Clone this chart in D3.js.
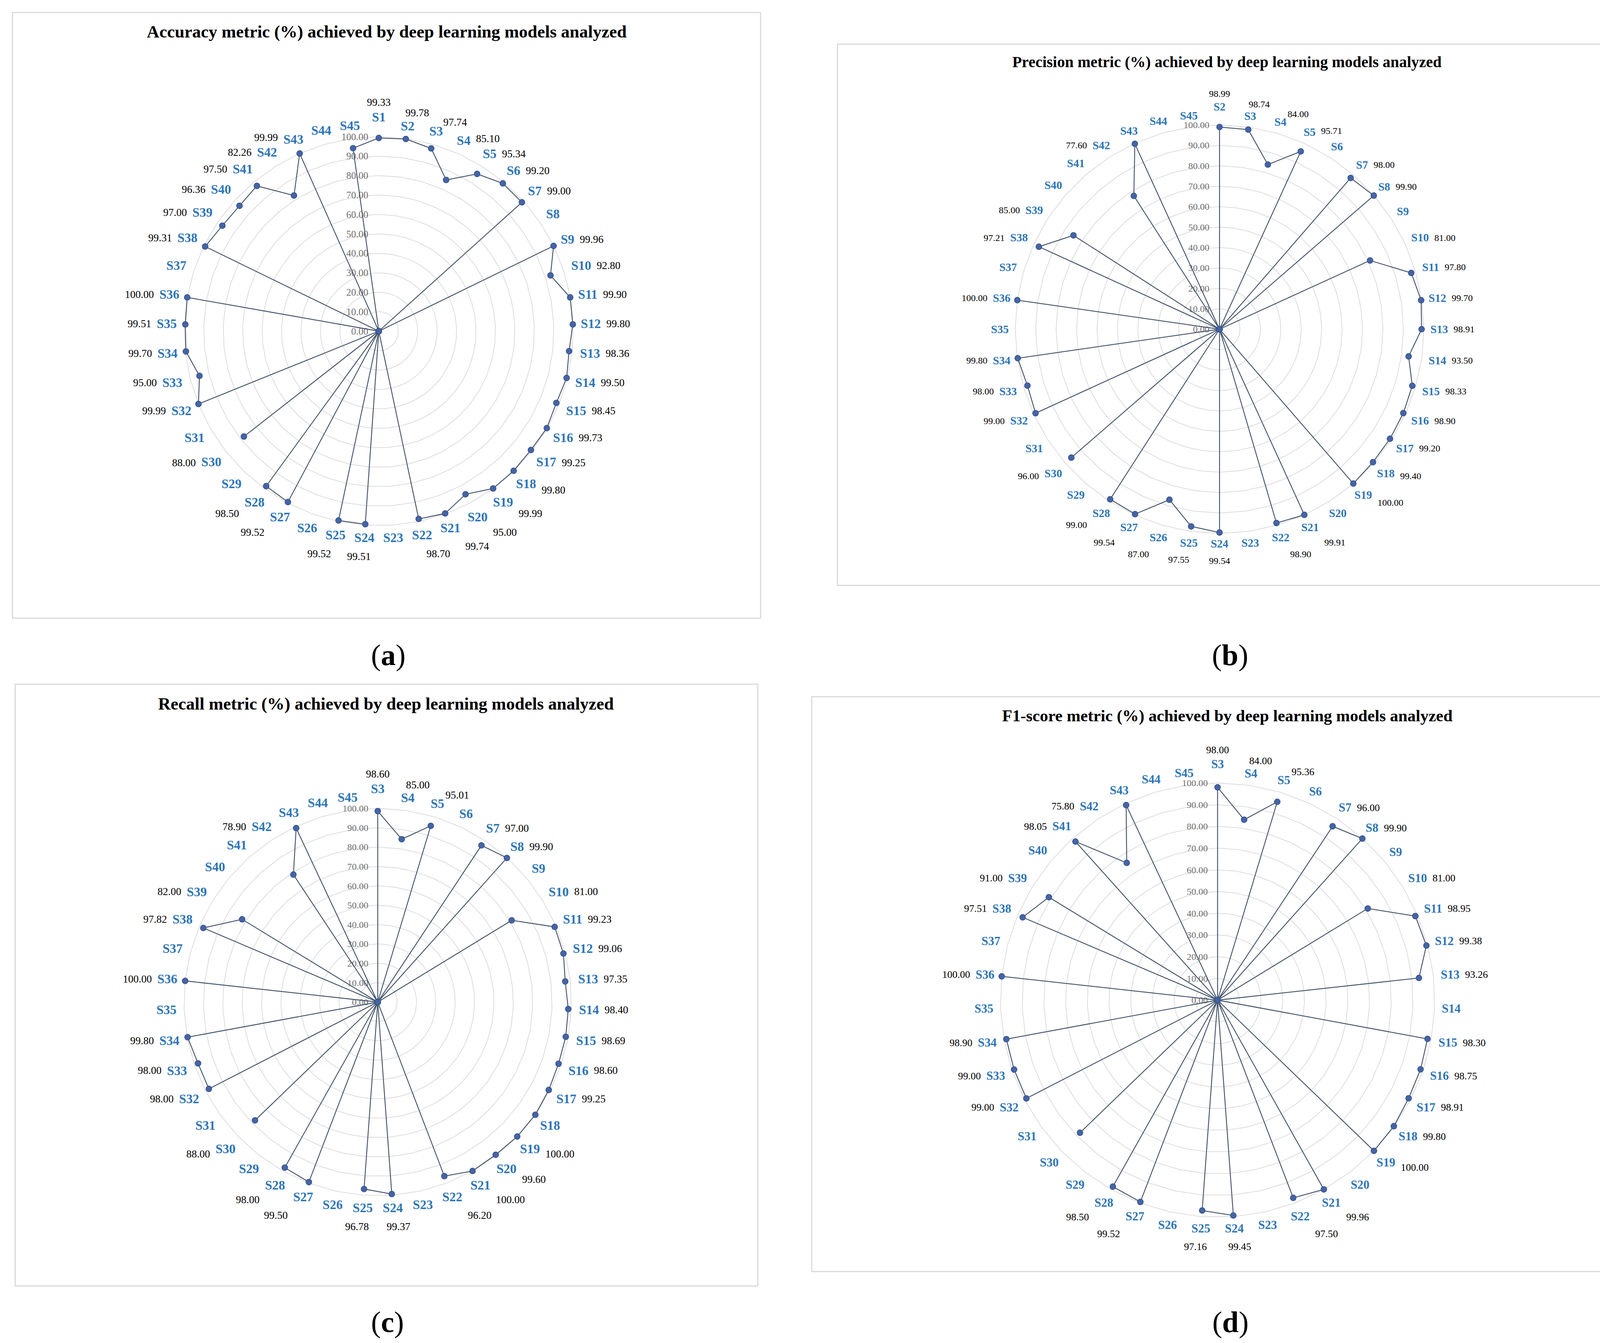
<!DOCTYPE html>
<html>
<head>
<meta charset="utf-8">
<script src="https://cdn.jsdelivr.net/npm/d3@7"></script>
<style>
html, body { margin: 0; padding: 0; background: #ffffff; }
svg { display: block; }
</style>
</head>
<body>
<svg id="fig" width="4229" height="3439"></svg>
<script>
// ---------------- DATA ----------------
const catsA = ["S1","S2","S3","S4","S5","S6","S7","S8","S9","S10","S11","S12","S13","S14","S15","S16","S17","S18","S19","S20","S21","S22","S23","S24","S25","S26","S27","S28","S29","S30","S31","S32","S33","S34","S35","S36","S37","S38","S39","S40","S41","S42","S43","S44","S45"];
const accuracy = [99.33,99.78,97.74,85.10,95.34,99.20,99.00,0,99.96,92.80,99.90,99.80,98.36,99.50,98.45,99.73,99.25,99.80,99.99,95.00,99.74,98.70,0,99.51,99.52,0,99.52,98.50,0,88.00,0,99.99,95.00,99.70,99.51,100.00,0,99.31,97.00,96.36,97.50,82.26,99.99,0,95.00];
const hiddenA = ["S45"];

const catsB = ["S2","S3","S4","S5","S6","S7","S8","S9","S10","S11","S12","S13","S14","S15","S16","S17","S18","S19","S20","S21","S22","S23","S24","S25","S26","S27","S28","S29","S30","S31","S32","S33","S34","S35","S36","S37","S38","S39","S40","S41","S42","S43","S44","S45"];
const precision = [98.99,98.74,84.00,95.71,0,98.00,99.90,0,81.00,97.80,99.70,98.91,93.50,98.33,98.90,99.20,99.40,100.00,0,99.91,98.90,0,99.54,97.55,87.00,99.54,99.00,0,96.00,0,99.00,98.00,99.80,0,100.00,0,97.21,85.00,0,0,77.60,99.80,0,0];
const hiddenB = ["S43"];

const catsC = ["S3","S4","S5","S6","S7","S8","S9","S10","S11","S12","S13","S14","S15","S16","S17","S18","S19","S20","S21","S22","S23","S24","S25","S26","S27","S28","S29","S30","S31","S32","S33","S34","S35","S36","S37","S38","S39","S40","S41","S42","S43","S44","S45"];
const recall = [98.60,85.00,95.01,0,97.00,99.90,0,81.00,99.23,99.06,97.35,98.40,98.69,98.60,99.25,100.00,100.00,99.60,100.00,96.20,0,99.37,96.78,0,99.50,98.00,0,88.00,0,98.00,98.00,99.80,0,100.00,0,97.82,82.00,0,0,78.90,99.20,0,0];
const hiddenC = ["S18","S43"];

const catsD = ["S3","S4","S5","S6","S7","S8","S9","S10","S11","S12","S13","S14","S15","S16","S17","S18","S19","S20","S21","S22","S23","S24","S25","S26","S27","S28","S29","S30","S31","S32","S33","S34","S35","S36","S37","S38","S39","S40","S41","S42","S43","S44","S45"];
const f1score = [98.00,84.00,95.36,0,96.00,99.90,0,81.00,98.95,99.38,93.26,0,98.30,98.75,98.91,99.80,100.00,0,99.96,97.50,0,99.45,97.16,0,99.52,98.50,0,88.00,0,99.00,99.00,98.90,0,100.00,0,97.51,91.00,0,98.05,75.80,99.20,0,0];
const hiddenD = ["S30","S43"];

const ringTicks = [0,10,20,30,40,50,60,70,80,90,100];
const titleA = "Accuracy metric (%) achieved by deep learning models analyzed";
const titleB = "Precision metric (%) achieved by deep learning models analyzed";
const titleC = "Recall metric (%) achieved by deep learning models analyzed";
const titleD = "F1-score metric (%) achieved by deep learning models analyzed";
const panelLetters = ["a","b","c","d"];

// ---------------- LAYOUT ----------------
const panels = [
  {cats: catsA, values: accuracy, hidden: hiddenA, title: titleA, letter: panelLetters[0],
   box: [32,32,1947,1583], cx: 969.7, cy: 848, r: 498,
   titleX: 990, titleY: 96, titleFs: 44.5, catFs: 33, dataFs: 27, axisFs: 25, axisOff: 27,
   labelX: 994, labelY: 1703},
  {cats: catsB, values: precision, hidden: hiddenB, title: titleB, letter: panelLetters[1],
   box: [2144,113,4145,1499], cx: 3122, cy: 843, r: 523,
   titleX: 3141, titleY: 172, titleFs: 40, catFs: 29, dataFs: 24, axisFs: 24, axisOff: 26,
   labelX: 3149, labelY: 1703},
  {cats: catsC, values: recall, hidden: hiddenC, title: titleC, letter: panelLetters[2],
   box: [39,1752,1940,3293], cx: 967, cy: 2566, r: 496,
   titleX: 988, titleY: 1817, titleFs: 44.5, catFs: 33, dataFs: 27, axisFs: 24, axisOff: 24,
   labelX: 992, labelY: 3411},
  {cats: catsD, values: f1score, hidden: hiddenD, title: titleD, letter: panelLetters[3],
   box: [2078,1784,4206,3256], cx: 3117, cy: 2561, r: 556,
   titleX: 3142, titleY: 1847, titleFs: 42.4, catFs: 31, dataFs: 26, axisFs: 24, axisOff: 25,
   labelX: 3150, labelY: 3411}
];

const FONT = "'Liberation Serif','Times New Roman',serif";
const svg = d3.select("#fig");
svg.append("rect").attr("width", 4229).attr("height", 3439).attr("fill", "#ffffff");
const fmt = d3.format(".2f");
const clamp01 = v => Math.max(0, Math.min(1, v));

panels.forEach(p => {
  const g = svg.append("g");
  g.append("rect")
    .attr("x", p.box[0]).attr("y", p.box[1])
    .attr("width", p.box[2] - p.box[0]).attr("height", p.box[3] - p.box[1])
    .attr("fill", "#ffffff").attr("stroke", "#D9D9D9").attr("stroke-width", 3);

  g.append("text")
    .attr("x", p.titleX).attr("y", p.titleY)
    .attr("text-anchor", "middle")
    .attr("font-family", FONT).attr("font-weight", "bold")
    .attr("font-size", p.titleFs).attr("fill", "#000")
    .text(p.title);

  const n = p.cats.length;
  const ang = d3.scaleLinear().domain([0, n]).range([0, 2 * Math.PI]);
  const rad = d3.scaleLinear().domain([0, 100]).range([0, p.r]);

  const plot = g.append("g").attr("transform", `translate(${p.cx},${p.cy})`);

  // gridline rings
  ringTicks.filter(v => v > 0).forEach(v => {
    const ring = d3.lineRadial()
      .angle((d, i) => ang(i))
      .radius(() => rad(v))
      .curve(d3.curveLinearClosed);
    plot.append("path")
      .attr("d", ring(p.cats))
      .attr("fill", "none").attr("stroke", "#D9D9D9").attr("stroke-width", 1.8);
  });

  // axis tick labels
  plot.selectAll("text.axis").data(ringTicks).enter().append("text")
    .attr("class", "axis")
    .attr("x", -p.axisOff).attr("y", d => -rad(d)).attr("dy", "0.34em")
    .attr("text-anchor", "end")
    .attr("font-family", FONT).attr("font-size", p.axisFs).attr("fill", "#6E6E6E")
    .text(d => fmt(d));

  // series line
  const line = d3.lineRadial()
    .angle((d, i) => ang(i))
    .radius(d => rad(d))
    .curve(d3.curveLinearClosed);
  plot.append("path")
    .attr("d", line(p.values))
    .attr("fill", "none").attr("stroke", "#44546A").attr("stroke-width", 2.3)
    .attr("stroke-linejoin", "round");

  // markers
  plot.selectAll("circle.mk").data(p.values).enter().append("circle")
    .attr("class", "mk")
    .attr("cx", (d, i) => rad(d) * Math.sin(ang(i)))
    .attr("cy", (d, i) => -rad(d) * Math.cos(ang(i)))
    .attr("r", 7.5)
    .attr("fill", "#4564A4").attr("stroke", "#34508C").attr("stroke-width", 1.5);

  // category labels + data labels
  const gap = 0.58 * p.catFs;
  const hCat = 0.66 * p.catFs;
  p.cats.forEach((c, i) => {
    const th = ang(i);
    const s = Math.sin(th), co = Math.cos(th);
    const t = plot.append("text")
      .attr("text-anchor", "middle").attr("dy", "0.34em")
      .attr("font-family", FONT).attr("font-weight", "bold")
      .attr("font-size", p.catFs).attr("fill", "#2E75B6")
      .text(c);
    const w = t.node().getComputedTextLength();
    const R = p.r + gap + (w / 2) * Math.abs(s) + (hCat / 2) * Math.abs(co) + (i === 0 ? 20 : 0);
    const xc = R * s, yc = -R * co;
    t.attr("x", xc).attr("y", yc);

    const v = p.values[i];
    if (v > 0 && p.hidden.indexOf(c) < 0) {
      const dt = plot.append("text")
        .attr("text-anchor", "middle").attr("dy", "0.34em")
        .attr("font-family", FONT).attr("font-size", p.dataFs).attr("fill", "#000")
        .text(fmt(v));
      const wd = dt.node().getComputedTextLength();
      const hx = Math.sign(s) * (w / 2 + 14 + wd / 2) * Math.min(1, Math.abs(s) / 0.35);
      let vy;
      if (co > 0) vy = -1.4 * p.dataFs * clamp01((co - 0.9) / 0.1);
      else vy = 1.8 * p.dataFs * clamp01((-co - 0.6) / 0.35);
      dt.attr("x", xc + hx).attr("y", yc + vy);
    }
  });

  // panel label
  const pl = svg.append("text")
    .attr("x", p.labelX).attr("y", p.labelY)
    .attr("text-anchor", "middle")
    .attr("font-family", FONT).attr("font-size", 76).attr("fill", "#000");
  pl.append("tspan").text("(");
  pl.append("tspan").attr("font-weight", "bold").text(p.letter);
  pl.append("tspan").text(")");
});
</script>
</body>
</html>
